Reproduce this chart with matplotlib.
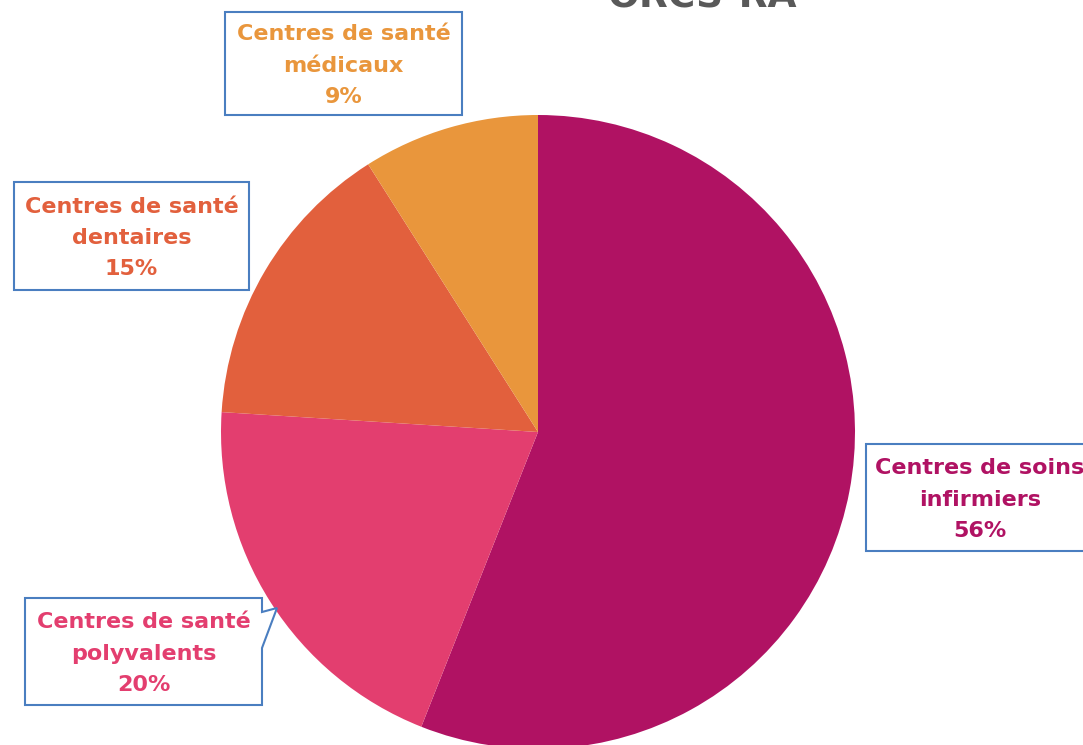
import matplotlib.pyplot as plt
from matplotlib.patches import Rectangle, Polygon

# données
labels = ["Centres de soins\ninfirmiers", "Centres de santé\npolyvalents",
          "Centres de santé\ndentaires", "Centres de santé\nmédicaux"]
values = [56, 20, 15, 9]
colors = ["#B01263", "#E33E6F", "#E2603D", "#E9963C"]
title = "ORCS-RA"

W, H = 1083, 745
fig = plt.figure(figsize=(W / 100, H / 100), dpi=100)
ax = fig.add_axes([0, 0, 1, 1])

ax.pie(values, colors=colors, startangle=90, counterclock=False,
       center=(538, H - 432), radius=317, frame=True)
ax.set_xlim(0, W)
ax.set_ylim(0, H)
ax.set_aspect("auto")
ax.axis("off")

font = dict(family="DejaVu Sans", fontweight="bold", fontsize=16)
box_col = "#4A7EC0"

# boites: (x0, y0, x1, y1) en pixels (y depuis le haut)
boxes = [(866, 444, 1095, 551), (25, 598, 262, 705),
         (14, 182, 249, 290), (225, 12, 462, 115)]

for lab, v, c, (x0, y0, x1, y1) in zip(labels, values, colors, boxes):
    if "polyvalents" in lab:
        pts = [(x0, y0), (x1, y0), (x1, 612), (277, 608), (x1, 648), (x1, y1), (x0, y1)]
        ax.add_patch(Polygon([(px, H - py) for px, py in pts], closed=True,
                             facecolor="white", edgecolor=box_col, lw=1.5, zorder=3))
    else:
        ax.add_patch(Rectangle((x0, H - y1), x1 - x0, y1 - y0, facecolor="white",
                               edgecolor=box_col, lw=1.5, zorder=3))
    ax.text((x0 + x1) / 2 if x1 < W else 980, H - (y0 + y1) / 2 - 2, f"{lab}\n{v}%",
            ha="center", va="center", color=c, linespacing=1.7, zorder=4, **font)

ax.text(702, H - 8, title, ha="center", va="baseline", color="#595959",
        fontsize=27, fontweight="bold", family="DejaVu Sans")

fig.savefig("out.png", dpi=100)
